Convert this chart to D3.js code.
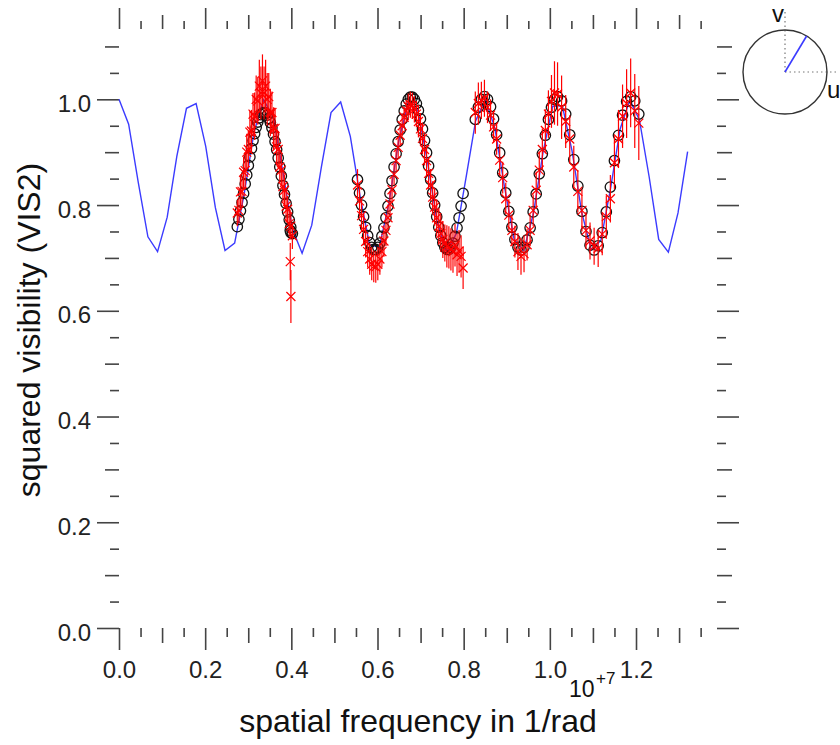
<!DOCTYPE html>
<html><head><meta charset="utf-8">
<script src="https://cdn.jsdelivr.net/npm/d3@7"></script>
<style>body{margin:0;background:#fff}svg{display:block}</style>
</head><body><svg id="c" width="840" height="745"></svg>
<script>
// ---- axis ticks / labels ----
const xTickValues=[0,0.2,0.4,0.6,0.8,1.0,1.2];
const xTickLabels=["0.0","0.2","0.4","0.6","0.8","1.0","1.2"];
const xMidTicks=[0.1,0.3,0.5,0.7,0.9,1.1,1.3];
const xShortTicks=[0.05,0.15,0.25,0.35,0.45,0.55,0.65,0.75,0.85,0.95,1.05,1.15,1.25,1.35];
const yTickValues=[0,0.2,0.4,0.6,0.8,1.0];
const yTickLabels=["0.0","0.2","0.4","0.6","0.8","1.0"];
const yMidTicks=[0.1,0.3,0.5,0.7,0.9,1.1];
const yShortTicks=[0.05,0.15,0.25,0.35,0.45,0.55,0.65,0.75,0.85,0.95,1.05];

// ---- model curve (blue), frequency in 1e7 /rad ----
const modelFreq=[0,0.0224,0.0447,0.0671,0.0895,0.1119,0.1342,0.1566,0.179,0.2013,0.2237,0.2461,0.2684,0.2908,0.3132,0.3356,0.3579,0.3803,0.4027,0.425,0.4474,0.4698,0.4921,0.5145,0.5369,0.5593,0.5816,0.604,0.6264,0.6487,0.6711,0.6935,0.7158,0.7382,0.7606,0.783,0.8053,0.8277,0.8501,0.8724,0.8948,0.9172,0.9395,0.9619,0.9843,1.0067,1.029,1.0514,1.0738,1.0961,1.1185,1.1409,1.1632,1.1856,1.208,1.2304,1.2527,1.2751,1.2975,1.3198];
const modelVis2=[1.000,0.953,0.843,0.740,0.712,0.777,0.892,0.983,0.992,0.911,0.795,0.714,0.728,0.822,0.937,0.999,0.967,0.863,0.754,0.709,0.762,0.872,0.975,0.995,0.930,0.818,0.725,0.720,0.803,0.919,0.994,0.979,0.883,0.769,0.711,0.746,0.851,0.959,1.000,0.946,0.834,0.735,0.714,0.784,0.900,0.987,0.988,0.903,0.787,0.715,0.733,0.831,0.944,0.999,0.961,0.854,0.735,0.711,0.785,0.901];

// ---- data group A ----
const freqA=[0.2746,0.2783,0.2819,0.2856,0.2892,0.2929,0.2965,0.3002,0.3038,0.3075,0.3111,0.3148,0.3184,0.3221,0.3257,0.3294,0.333,0.3367,0.3403,0.344,0.3476,0.3513,0.3549,0.3586,0.3622,0.3659,0.3695,0.3732,0.3768,0.3805,0.3841,0.3878,0.3914,0.3951,0.3987,0.4024,0.3975,0.3990];
const vis2A=[0.785,0.790,0.825,0.826,0.862,0.865,0.900,0.905,0.938,0.940,0.972,0.968,1.000,0.997,1.025,1.012,1.035,1.012,1.025,1.000,1.005,0.975,0.975,0.945,0.945,0.910,0.905,0.872,0.866,0.835,0.828,0.798,0.792,0.765,0.760,0.742,0.693,0.627];
const errA=[0.025,0.025,0.03,0.03,0.03,0.035,0.035,0.035,0.04,0.04,0.04,0.045,0.045,0.045,0.05,0.05,0.05,0.05,0.05,0.05,0.045,0.045,0.04,0.04,0.035,0.035,0.035,0.03,0.03,0.03,0.03,0.03,0.025,0.025,0.025,0.025,0.035,0.05];
const fitA=[0.759,0.773,0.789,0.805,0.822,0.840,0.857,0.875,0.891,0.907,0.922,0.935,0.947,0.957,0.965,0.971,0.974,0.975,0.974,0.970,0.964,0.956,0.946,0.934,0.920,0.905,0.889,0.872,0.855,0.837,0.820,0.803,0.787,0.772,0.758,0.746,0.752,0.748];

// ---- data group B ----
const freqB=[0.5536,0.5583,0.5630,0.5677,0.5725,0.5772,0.5819,0.5866,0.5913,0.5960,0.6007,0.6055,0.6102,0.6149,0.6196,0.6243,0.6290,0.6337,0.6385,0.6432,0.6479,0.6526,0.6573,0.6620,0.6667,0.6715,0.6762,0.6809,0.6856,0.6903,0.6950,0.6997,0.7044,0.7092,0.7139,0.7186,0.7233,0.7280,0.7327,0.7374,0.7422,0.7469,0.7516,0.7563,0.7610,0.7657,0.7704,0.7752,0.7799,0.7846,0.7893,0.7940,0.7987];
const vis2B=[0.838,0.808,0.780,0.754,0.731,0.712,0.698,0.688,0.684,0.683,0.688,0.698,0.712,0.732,0.752,0.776,0.802,0.829,0.858,0.884,0.909,0.932,0.950,0.966,0.978,0.986,0.990,0.988,0.981,0.972,0.958,0.944,0.926,0.905,0.884,0.860,0.838,0.815,0.796,0.776,0.760,0.746,0.735,0.728,0.722,0.720,0.716,0.712,0.724,0.706,0.713,0.703,0.681];
const errB=[0.03,0.03,0.03,0.03,0.03,0.03,0.03,0.03,0.03,0.03,0.03,0.03,0.03,0.03,0.03,0.025,0.025,0.025,0.02,0.02,0.02,0.02,0.02,0.02,0.02,0.025,0.025,0.025,0.025,0.025,0.03,0.03,0.03,0.03,0.03,0.03,0.03,0.03,0.035,0.035,0.035,0.035,0.035,0.035,0.04,0.04,0.04,0.04,0.04,0.04,0.04,0.04,0.04];
const fitB=[0.848,0.823,0.800,0.778,0.758,0.742,0.729,0.720,0.716,0.716,0.720,0.728,0.741,0.757,0.776,0.798,0.822,0.846,0.872,0.897,0.920,0.942,0.962,0.978,0.991,1.000,1.004,1.004,1.000,0.992,0.979,0.963,0.944,0.922,0.899,0.874,0.848,0.823,0.800,0.778,0.758,0.742,0.729,0.720,0.716,0.716,0.720,0.728,0.741,0.757,0.776,0.798,0.822];

// ---- data group C ----
const freqC=[0.8270,0.8341,0.8411,0.8482,0.8553,0.8624,0.8694,0.8765,0.8836,0.8906,0.8977,0.9048,0.9119,0.9189,0.9260,0.9331,0.9401,0.9472,0.9543,0.9613,0.9684,0.9755,0.9826,0.9896,0.9967,1.0038,1.0108,1.0179,1.0273,1.0368,1.0462,1.0556,1.0650,1.0745,1.0839,1.0933,1.1028,1.1122,1.1216,1.1311,1.1405,1.1499,1.1593,1.1688,1.1782,1.1876,1.1971,1.2065];
const vis2C=[0.975,0.992,0.998,1.002,0.985,0.970,0.948,0.925,0.885,0.852,0.812,0.781,0.752,0.731,0.712,0.703,0.708,0.725,0.752,0.790,0.828,0.866,0.905,0.941,0.972,0.996,1.012,1.010,0.985,0.958,0.925,0.872,0.826,0.790,0.752,0.732,0.722,0.718,0.745,0.778,0.812,0.880,0.925,0.968,0.992,1.012,0.978,0.955];
const errC=[0.04,0.04,0.035,0.035,0.03,0.03,0.03,0.03,0.03,0.03,0.03,0.03,0.03,0.03,0.035,0.035,0.035,0.03,0.03,0.03,0.035,0.035,0.04,0.04,0.045,0.05,0.06,0.06,0.06,0.05,0.045,0.04,0.04,0.04,0.035,0.035,0.035,0.035,0.04,0.04,0.045,0.05,0.055,0.06,0.065,0.065,0.07,0.07];
const fitC=[0.962,0.985,1.000,1.005,1.000,0.986,0.963,0.933,0.899,0.861,0.823,0.788,0.758,0.735,0.720,0.715,0.720,0.734,0.757,0.787,0.821,0.859,0.897,0.932,0.962,0.985,1.000,1.005,0.997,0.972,0.933,0.886,0.836,0.788,0.750,0.724,0.715,0.723,0.748,0.787,0.834,0.884,0.932,0.970,0.996,1.005,0.997,0.972];

// ---- uv inset: baseline direction (u, v) ----
const baselineUV=[0.515,0.857];

const dataFreq=freqA.concat(freqB,freqC);
const dataVis2=vis2A.concat(vis2B,vis2C);
const dataErr=errA.concat(errB,errC);
const dataFit=fitA.concat(fitB,fitC);
const data=dataFreq.map((f,i)=>({f:f,v:dataVis2[i],e:dataErr[i],m:dataFit[i]}));
const curve=modelFreq.map((f,i)=>({f:f,v:modelVis2[i]}));

const svg=d3.select("#c");
const FONT="'Liberation Sans', Arial, Helvetica, sans-serif";
const x=d3.scaleLinear().domain([0,1.388]).range([119,717]);
const y=d3.scaleLinear().domain([0,1.133]).range([628,29]);
const tickCol="#444";

function axis(gen,tr){
  const g=svg.append("g").attr("transform",tr).call(gen);
  g.select(".domain").remove();
  g.selectAll(".tick line").attr("stroke",tickCol).attr("stroke-width",1.6);
  g.selectAll(".tick text").attr("font-family",FONT).attr("font-size",24).attr("fill","#222");
  return g;
}
const none=()=>"";
// bottom
axis(d3.axisBottom(x).tickValues(xTickValues).tickFormat((d,i)=>xTickLabels[i]).tickSize(22).tickPadding(11),"translate(0,628)");
axis(d3.axisBottom(x).tickValues(xMidTicks).tickFormat(none).tickSize(15),"translate(0,628)");
axis(d3.axisBottom(x).tickValues(xShortTicks).tickFormat(none).tickSize(9),"translate(0,628)");
// top
axis(d3.axisTop(x).tickValues(xTickValues).tickFormat(none).tickSize(21),"translate(0,29)");
axis(d3.axisTop(x).tickValues(xMidTicks).tickFormat(none).tickSize(14),"translate(0,29)");
axis(d3.axisTop(x).tickValues(xShortTicks).tickFormat(none).tickSize(8),"translate(0,29)");
// left
const gl=axis(d3.axisLeft(y).tickValues(yTickValues).tickFormat((d,i)=>yTickLabels[i]).tickSize(22).tickPadding(6),"translate(119,0)");
gl.selectAll(".tick text").attr("dy","0.5em");
axis(d3.axisLeft(y).tickValues(yMidTicks).tickFormat(none).tickSize(14),"translate(119,0)");
axis(d3.axisLeft(y).tickValues(yShortTicks).tickFormat(none).tickSize(9),"translate(119,0)");
// right
axis(d3.axisRight(y).tickValues(yTickValues).tickFormat(none).tickSize(22),"translate(717,0)");
axis(d3.axisRight(y).tickValues(yMidTicks).tickFormat(none).tickSize(15),"translate(717,0)");
axis(d3.axisRight(y).tickValues(yShortTicks).tickFormat(none).tickSize(9),"translate(717,0)");

// titles
svg.append("text").attr("x",418).attr("y",732).attr("text-anchor","middle")
  .attr("font-family",FONT).attr("font-size",32).attr("fill","#111").text("spatial frequency in 1/rad");
svg.append("text").attr("transform","translate(40,330) rotate(-90)").attr("text-anchor","middle")
  .attr("font-family",FONT).attr("font-size",32).attr("fill","#111").text("squared visibility (VIS2)");
svg.append("text").attr("x",569).attr("y",697).attr("font-family",FONT).attr("font-size",23).attr("fill","#111").text("10");
svg.append("text").attr("x",596).attr("y",684).attr("font-family",FONT).attr("font-size",17).attr("fill","#111").text("+7");

// model line
svg.append("path").datum(curve)
  .attr("d",d3.line().x(d=>x(d.f)).y(d=>y(d.v)))
  .attr("fill","none").attr("stroke","#3b3bff").attr("stroke-width",1.4);

// model at data points (black circles)
svg.append("g").selectAll("circle").data(data).join("circle")
  .attr("cx",d=>x(d.f)).attr("cy",d=>y(d.m)).attr("r",5.2)
  .attr("fill","none").attr("stroke","#111").attr("stroke-width",1.3);

// data (red) error bars + x markers
const gr=svg.append("g").attr("stroke","#ff0000").attr("stroke-width",1.2).attr("fill","none");
gr.selectAll("line.eb").data(data).join("line").attr("class","eb")
  .attr("x1",d=>x(d.f)).attr("x2",d=>x(d.f))
  .attr("y1",d=>y(d.v-d.e)).attr("y2",d=>y(d.v+d.e));
gr.selectAll("path.mk").data(data).join("path").attr("class","mk")
  .attr("d",d=>{const cx=x(d.f),cy=y(d.v),s=4.5;return `M${cx-s},${cy-s}L${cx+s},${cy+s}M${cx-s},${cy+s}L${cx+s},${cy-s}`;});

// uv inset
const ic={x:785,y:72,r:42};
svg.append("line").attr("x1",ic.x).attr("y1",ic.y).attr("x2",ic.x).attr("y2",10)
  .attr("stroke","#777").attr("stroke-width",1.2).attr("stroke-dasharray","1.5,3");
svg.append("line").attr("x1",ic.x).attr("y1",ic.y).attr("x2",839).attr("y2",ic.y)
  .attr("stroke","#777").attr("stroke-width",1.2).attr("stroke-dasharray","1.5,3");
svg.append("circle").attr("cx",ic.x).attr("cy",ic.y).attr("r",ic.r)
  .attr("fill","none").attr("stroke","#333").attr("stroke-width",1.4);
svg.append("line").attr("x1",ic.x).attr("y1",ic.y)
  .attr("x2",ic.x+ic.r*baselineUV[0]).attr("y2",ic.y-ic.r*baselineUV[1])
  .attr("stroke","#3b3bff").attr("stroke-width",1.6);
svg.append("text").attr("x",772).attr("y",22).attr("font-family",FONT).attr("font-size",24).attr("fill","#111").text("v");
svg.append("text").attr("x",827).attr("y",98).attr("font-family",FONT).attr("font-size",24).attr("fill","#111").text("u");
</script></body></html>
